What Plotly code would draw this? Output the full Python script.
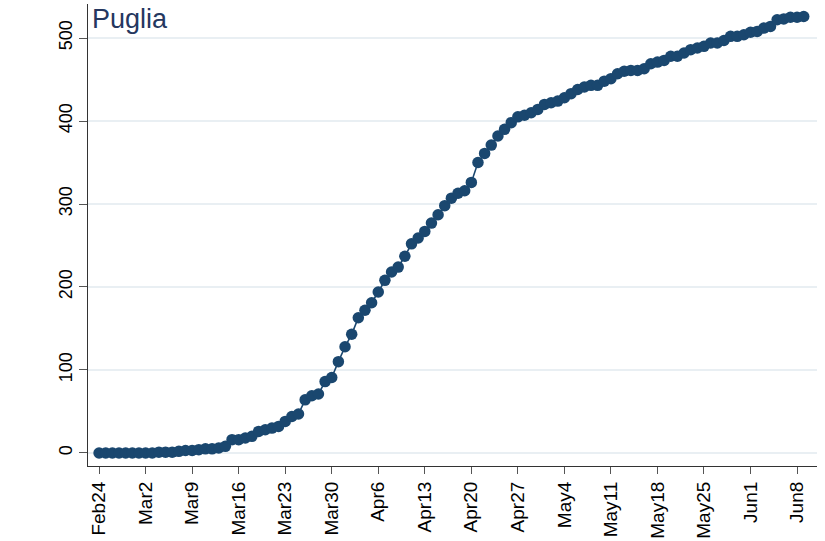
import pandas as pd
import plotly.graph_objects as go

# Cumulative values, one per day starting Feb 24
start_date = "2020-02-24"
deaths = [0, 0, 0, 0, 0, 0, 0, 0, 0, 1,
          1, 1, 2, 3, 3, 4, 5, 5, 6, 8,
          16, 16, 18, 20, 26, 28, 30, 32, 38, 44,
          47, 64, 69, 71, 86, 91, 110, 128, 143, 163,
          172, 181, 194, 208, 218, 224, 237, 252, 259, 267,
          277, 287, 298, 307, 313, 316, 326, 350, 361, 371,
          382, 390, 398, 405, 407, 410, 414, 420, 422, 424,
          428, 433, 438, 441, 443, 443, 448, 451, 457, 460,
          461, 461, 463, 469, 471, 473, 478, 478, 482, 486,
          488, 490, 494, 494, 497, 502, 502, 504, 507, 508,
          512, 514, 522, 523, 525, 525, 526]

tick_labels = ["Feb24", "Mar2", "Mar9", "Mar16", "Mar23", "Mar30", "Apr6",
               "Apr13", "Apr20", "Apr27", "May4", "May11", "May18", "May25",
               "Jun1", "Jun8"]
y_ticks = [0, 100, 200, 300, 400, 500]
title_text = "Puglia"

dates = pd.date_range(start_date, periods=len(deaths), freq="D")
tick_dates = pd.date_range(start_date, periods=len(tick_labels), freq="7D")
t0 = pd.Timestamp(start_date)

navy = "#1a476f"
font_family = "Liberation Sans, Arial, sans-serif"

fig = go.Figure()
fig.add_trace(go.Scatter(
    x=dates, y=deaths, mode="lines+markers",
    line=dict(color=navy, width=1.6),
    marker=dict(color=navy, size=11.5),
    showlegend=False,
))

fig.update_layout(
    width=825, height=541,
    margin=dict(l=88, r=8, t=4, b=75),
    paper_bgcolor="white", plot_bgcolor="white",
    font=dict(family=font_family, color="black"),
    annotations=[dict(
        text=title_text, xref="paper", yref="paper", x=0, y=1,
        xanchor="left", yanchor="top", xshift=2, yshift=2, showarrow=False,
        font=dict(size=27, color="#25375f", family=font_family),
    )],
)

fig.update_xaxes(
    automargin=False,
    range=[t0 - pd.Timedelta(hours=40), t0 + pd.Timedelta(days=108)],
    tickvals=tick_dates, ticktext=tick_labels, tickangle=-90,
    tickfont=dict(size=19, family=font_family, color="black"),
    ticks="outside", ticklen=7, tickcolor="#555", tickwidth=1.2,
    showline=True, linecolor="#333", linewidth=1.2,
    showgrid=False, zeroline=False,
)
fig.update_yaxes(
    automargin=False,
    range=[-15.7, 541],
    tickvals=y_ticks, tickangle=-90,
    tickfont=dict(size=18, family=font_family, color="black"),
    ticks="outside", ticklen=8, tickcolor="#555", tickwidth=1.2,
    showline=True, linecolor="#333", linewidth=1.2,
    showgrid=True, gridcolor="#e9eff3", gridwidth=1.5, zeroline=False,
)

fig.write_html(
    "out.html",
    config={"displayModeBar": False},
    post_script="document.body.style.margin='0px';document.body.style.overflow='hidden';",
)
